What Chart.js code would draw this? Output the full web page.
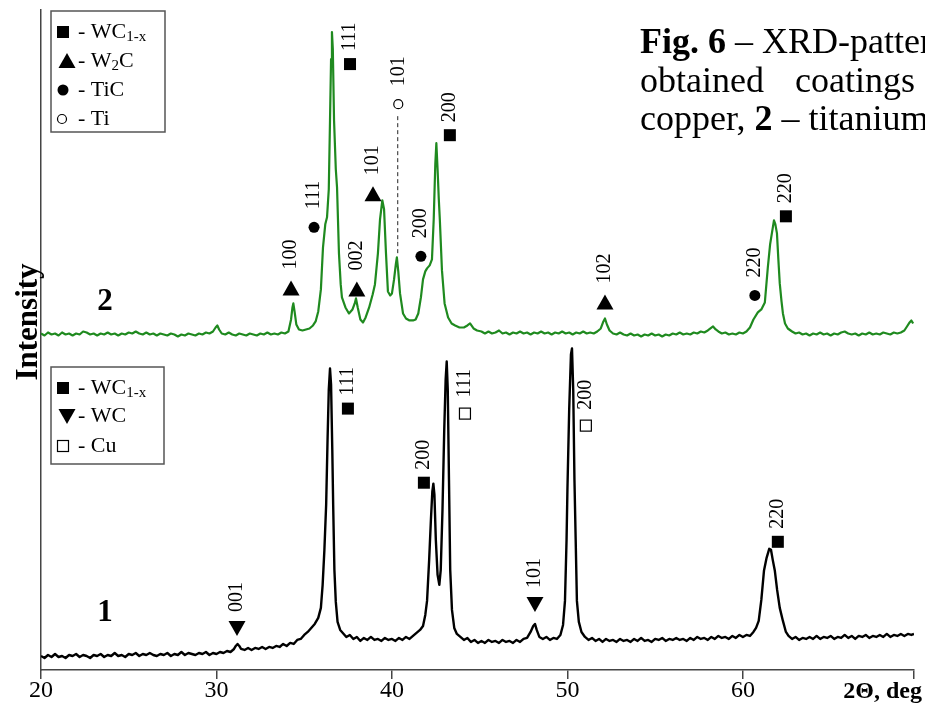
<!DOCTYPE html>
<html>
<head>
<meta charset="utf-8">
<script src="https://cdn.jsdelivr.net/npm/chart.js@4.4.1/dist/chart.umd.min.js"></script>
<style>
  html, body { margin: 0; padding: 0; background: #fff; }
</style>
</head>
<body>
<canvas id="chart" width="925" height="703"></canvas>
<script>
'use strict'

// pattern 1 (black) - 2theta, deg and intensity (arb. units)
const blackTheta = [
  20.0, 20.2, 20.4, 20.6, 20.8, 21.0, 21.2, 21.4, 21.6, 21.8,
  22.0, 22.2, 22.4, 22.6, 22.8, 23.0, 23.2, 23.4, 23.6, 23.8,
  24.0, 24.2, 24.4, 24.6, 24.8, 25.0, 25.2, 25.4, 25.6, 25.8,
  26.0, 26.2, 26.4, 26.6, 26.8, 27.0, 27.2, 27.4, 27.6, 27.8,
  28.0, 28.2, 28.4, 28.6, 28.8, 29.0, 29.2, 29.4, 29.6, 29.8,
  30.0, 30.2, 30.4, 30.6, 30.8, 31.0, 31.1, 31.2, 31.3, 31.4,
  31.6, 31.8, 32.0, 32.2, 32.4, 32.6, 32.8, 33.0, 33.2, 33.4,
  33.6, 33.8, 34.0, 34.2, 34.4, 34.6, 34.8, 35.0, 35.2, 35.4,
  35.6, 35.8, 35.95, 36.05, 36.15, 36.25, 36.33, 36.4, 36.47, 36.53,
  36.6, 36.65, 36.72, 36.8, 36.9, 37.05, 37.2, 37.4, 37.6, 37.8,
  38.0, 38.2, 38.4, 38.6, 38.8, 39.0, 39.2, 39.4, 39.6, 39.8,
  40.0, 40.2, 40.4, 40.6, 40.8, 41.0, 41.2, 41.4, 41.6, 41.77,
  41.9, 42.0, 42.12, 42.22, 42.3, 42.36, 42.42, 42.5, 42.6, 42.7,
  42.78, 42.88, 42.98, 43.06, 43.12, 43.18, 43.25, 43.32, 43.42, 43.55,
  43.7, 43.9, 44.1, 44.3, 44.5, 44.7, 44.9, 45.1, 45.3, 45.5,
  45.7, 45.9, 46.1, 46.3, 46.5, 46.7, 46.9, 47.1, 47.3, 47.5,
  47.7, 47.9, 48.05, 48.15, 48.25, 48.4, 48.6, 48.8, 49.0, 49.2,
  49.4, 49.6, 49.75, 49.86, 49.95, 50.0, 50.1, 50.2, 50.26, 50.33,
  50.4, 50.47, 50.54, 50.65, 50.8, 51.0, 51.2, 51.4, 51.6, 51.8,
  52.0, 52.2, 52.4, 52.6, 52.8, 53.0, 53.2, 53.4, 53.6, 53.8,
  54.0, 54.2, 54.4, 54.6, 54.8, 55.0, 55.2, 55.4, 55.6, 55.8,
  56.0, 56.2, 56.4, 56.6, 56.8, 57.0, 57.2, 57.4, 57.6, 57.8,
  58.0, 58.2, 58.4, 58.6, 58.8, 59.0, 59.2, 59.4, 59.6, 59.8,
  60.0, 60.2, 60.4, 60.6, 60.75, 60.9, 61.05, 61.2, 61.35, 61.5,
  61.6, 61.7, 61.82, 61.95, 62.1, 62.28, 62.45, 62.6, 62.8, 63.0,
  63.2, 63.4, 63.6, 63.8, 64.0, 64.2, 64.4, 64.6, 64.8, 65.0,
  65.2, 65.4, 65.6, 65.8, 66.0, 66.2, 66.4, 66.6, 66.8, 67.0,
  67.2, 67.4, 67.6, 67.8, 68.0, 68.2, 68.4, 68.6, 68.8, 69.0,
  69.2, 69.4, 69.6, 69.75,
]
const blackIntensity = [
  14, 12, 15, 13, 16, 13, 14, 12, 15, 14,
  16, 13, 15, 14, 12, 15, 14, 16, 13, 15,
  14, 17, 14, 15, 13, 16, 15, 17, 14, 16,
  15, 17, 15, 14, 16, 15, 17, 14, 16, 15,
  18, 15, 17, 16, 15, 17, 16, 18, 15, 17,
  16, 18, 17, 19, 18, 21, 24, 26, 24, 21,
  20, 22, 20, 22, 21, 23, 21, 23, 22, 24,
  23, 26, 24, 27, 26, 30, 31, 35, 38, 42,
  46, 52, 62, 85, 120, 165, 230, 280, 301, 285,
  220, 165, 100, 68, 48, 40, 37, 33, 35, 31,
  33, 29, 32, 30, 33, 30, 31, 29, 32, 30,
  31, 29, 32, 30, 33, 31, 34, 37, 40, 44,
  55, 69, 110, 150, 178, 186, 175, 130, 95, 85,
  100, 160, 240, 290, 308, 280, 190, 100, 60, 42,
  36, 33, 30, 32, 28, 30, 27, 29, 27, 30,
  28, 29, 27, 30, 28, 29, 27, 30, 28, 31,
  32, 38, 44, 46, 40, 33, 31, 33, 30, 32,
  31, 35, 45, 69, 130, 180, 260, 315, 321, 280,
  190, 130, 69, 48, 38, 33, 30, 32, 29, 31,
  28, 31, 29, 30, 28, 31, 29, 30, 28, 31,
  29, 32, 29, 30, 28, 31, 30, 32, 29, 31,
  30, 32, 30, 31, 29, 32, 30, 33, 31, 32,
  30, 33, 31, 34, 32, 33, 31, 34, 32, 35,
  33, 35, 34, 38, 42, 49, 70, 99, 112, 121,
  120, 110, 99, 80, 62, 49, 38, 34, 31, 33,
  30, 32, 31, 33, 31, 34, 31, 33, 32, 34,
  31, 33, 32, 35, 32, 34, 31, 34, 33, 35,
  32, 34, 33, 35, 33, 36, 33, 35, 34, 36,
  34, 36, 35, 36,
]

// pattern 2 (green), plotted with its offset above pattern 1
const greenTheta = [
  20.0, 20.2, 20.4, 20.6, 20.8, 21.0, 21.2, 21.4, 21.6, 21.8,
  22.0, 22.2, 22.4, 22.6, 22.8, 23.0, 23.2, 23.4, 23.6, 23.8,
  24.0, 24.2, 24.4, 24.6, 24.8, 25.0, 25.2, 25.4, 25.6, 25.8,
  26.0, 26.2, 26.4, 26.6, 26.8, 27.0, 27.2, 27.4, 27.6, 27.8,
  28.0, 28.2, 28.4, 28.6, 28.8, 29.0, 29.2, 29.4, 29.6, 29.8,
  29.95, 30.05, 30.15, 30.3, 30.5, 30.7, 30.9, 31.1, 31.3, 31.5,
  31.7, 31.9, 32.1, 32.3, 32.5, 32.7, 32.9, 33.1, 33.3, 33.5,
  33.7, 33.9, 34.1, 34.25, 34.33, 34.38, 34.45, 34.55, 34.7, 34.9,
  35.1, 35.3, 35.5, 35.65, 35.8, 35.95, 36.07, 36.2, 36.3, 36.4,
  36.47, 36.53, 36.58, 36.63, 36.7, 36.8, 36.87, 36.98, 37.08, 37.15,
  37.35, 37.55, 37.75, 37.88, 37.95, 38.05, 38.2, 38.35, 38.5, 38.7,
  38.9, 39.03, 39.2, 39.32, 39.45, 39.55, 39.66, 39.77, 39.9, 40.0,
  40.12, 40.22, 40.28, 40.36, 40.46, 40.63, 40.8, 41.0, 41.2, 41.35,
  41.5, 41.65, 41.77, 41.9, 42.0, 42.15, 42.28, 42.38, 42.47, 42.53,
  42.6, 42.67, 42.73, 42.85, 43.0, 43.2, 43.4, 43.6, 43.85, 44.1,
  44.3, 44.45, 44.65, 44.85, 45.1, 45.3, 45.5, 45.7, 45.9, 46.1,
  46.3, 46.5, 46.7, 46.9, 47.1, 47.3, 47.5, 47.7, 47.9, 48.1,
  48.3, 48.5, 48.7, 48.9, 49.1, 49.3, 49.5, 49.7, 49.9, 50.1,
  50.3, 50.5, 50.7, 50.9, 51.1, 51.3, 51.5, 51.7, 51.9, 52.05,
  52.14, 52.25, 52.4, 52.6, 52.8, 53.0, 53.2, 53.4, 53.6, 53.8,
  54.0, 54.2, 54.4, 54.6, 54.8, 55.0, 55.2, 55.4, 55.6, 55.8,
  56.0, 56.2, 56.4, 56.6, 56.8, 57.0, 57.2, 57.4, 57.6, 57.8,
  58.0, 58.15, 58.3, 58.45, 58.6, 58.8, 59.0, 59.2, 59.4, 59.6,
  59.8, 60.0, 60.2, 60.4, 60.6, 60.85, 61.05, 61.25, 61.42, 61.55,
  61.65, 61.77, 61.85, 61.94, 62.02, 62.1, 62.2, 62.28, 62.4, 62.56,
  62.8, 63.0, 63.2, 63.4, 63.6, 63.8, 64.0, 64.2, 64.4, 64.6,
  64.8, 65.0, 65.2, 65.4, 65.6, 65.8, 66.0, 66.2, 66.4, 66.6,
  66.8, 67.0, 67.2, 67.4, 67.6, 67.8, 68.0, 68.2, 68.4, 68.6,
  68.8, 69.0, 69.2, 69.35, 69.5, 69.6, 69.7,
]
const greenIntensity = [
  336, 334, 337, 335, 336, 334, 337, 335, 336, 334,
  336, 335, 338, 337, 335, 336, 334, 336, 335, 337,
  335, 336, 334, 336, 335, 337, 336, 338, 336, 335,
  337, 335, 336, 334, 336, 335, 334, 336, 335, 333,
  335, 334, 336, 335, 334, 336, 335, 337, 336, 338,
  342, 344, 340, 336, 335, 337, 335, 334, 336, 335,
  334, 336, 335, 334, 336, 335, 337, 335, 336, 335,
  337, 336, 338, 350, 362, 366, 358, 345, 340, 339,
  340, 341, 344, 348, 358, 380, 422, 445, 452, 480,
  549, 610, 637, 620, 549, 500, 482, 416, 385, 372,
  362, 356, 360, 366, 371, 362, 350, 347, 352, 362,
  375, 385, 416, 450, 469, 460, 416, 378, 374, 376,
  390, 405, 412, 398, 376, 356, 351, 349, 349, 350,
  356, 372, 390, 398, 401, 404, 410, 450, 505, 526,
  500, 470, 449, 399, 366, 352, 346, 344, 342, 342,
  344, 346, 341, 339, 338, 336, 338, 336, 337, 339,
  336, 337, 335, 337, 336, 338, 336, 337, 335, 337,
  336, 338, 336, 337, 335, 337, 336, 338, 336, 337,
  335, 337, 336, 338, 336, 337, 336, 338, 341, 348,
  351, 345, 339, 336, 335, 337, 335, 334, 336, 334,
  335, 333, 335, 334, 336, 334, 335, 333, 335, 334,
  336, 335, 337, 335, 336, 335, 337, 336, 338, 337,
  339, 341, 343, 340, 338, 336, 337, 335, 336, 335,
  337, 336, 338, 342, 350, 357, 360, 367, 402, 425,
  436, 449, 445, 436, 410, 386, 368, 356, 346, 341,
  338, 336, 337, 335, 336, 334, 336, 335, 337, 335,
  336, 334, 336, 335, 337, 338, 336, 335, 336, 334,
  336, 335, 337, 335, 336, 335, 337, 336, 335, 337,
  336, 337, 339, 343, 347, 349, 346,
]

const xTicks = [20, 30, 40, 50, 60, 69.75]

// phase marks: position (2theta, intensity), symbol, hkl
const markTheta = [34.25, 35.56, 38.0, 38.92, 40.36, 41.65, 43.3, 37.61, 52.14, 60.68, 62.45,
  31.17, 37.49, 44.16, 41.82, 51.05, 48.15, 61.99]
const markIntensity = [381, 442, 380, 475, 565, 413, 534, 605, 367, 374, 453,
  42, 261, 256, 187, 244, 66, 128]
const markSymbol = ['up', 'dot', 'up', 'up', 'ring', 'dot', 'square', 'square', 'up', 'dot', 'square',
  'down', 'square', 'openSquare', 'square', 'openSquare', 'down', 'square']
const markLabel = ['100', '111', '002', '101', '101', '200', '200', '111', '102', '220', '220',
  '001', '111', '111', '200', '200', '101', '220']

// dashed guide from the Ti mark down to its peak
const dashTheta = 40.33
const dashFrom = 553
const dashTo = 414

const serif = '"Liberation Serif", "Times New Roman", serif'
const green = '#1f8a1f'

function drawSymbol(ctx, kind, cx, cy) {
  ctx.save()
  ctx.fillStyle = '#000'
  ctx.strokeStyle = '#000'
  ctx.lineWidth = 1.2
  ctx.beginPath()
  if (kind === 'square') {
    ctx.fillRect(cx - 6, cy - 6, 12, 12)
  } else if (kind === 'openSquare') {
    ctx.fillStyle = '#fff'
    ctx.fillRect(cx - 5.5, cy - 5.5, 11, 11)
    ctx.strokeRect(cx - 5.5, cy - 5.5, 11, 11)
  } else if (kind === 'up') {
    ctx.moveTo(cx, cy - 8)
    ctx.lineTo(cx + 8.5, cy + 7)
    ctx.lineTo(cx - 8.5, cy + 7)
    ctx.closePath()
    ctx.fill()
  } else if (kind === 'down') {
    ctx.moveTo(cx, cy + 8)
    ctx.lineTo(cx + 8.5, cy - 7)
    ctx.lineTo(cx - 8.5, cy - 7)
    ctx.closePath()
    ctx.fill()
  } else if (kind === 'dot') {
    ctx.arc(cx, cy, 5.5, 0, Math.PI * 2)
    ctx.fill()
  } else if (kind === 'ring') {
    ctx.arc(cx, cy, 4.5, 0, Math.PI * 2)
    ctx.fillStyle = '#fff'
    ctx.fill()
    ctx.stroke()
  }
  ctx.restore()
}

const labelGap = { up: 19, down: 16, square: 13, openSquare: 16, dot: 18, ring: 18 }

// text made of pieces: normal, subscript or bold
function drawRich(ctx, x, y, parts, size) {
  let cx = x
  parts.forEach(p => {
    const s = p.sub ? Math.round(size * 0.7) : size
    ctx.font = (p.bold ? 'bold ' : '') + s + 'px ' + serif
    ctx.fillText(p.t, cx, p.sub ? y + 5 : y)
    cx += ctx.measureText(p.t).width
  })
}

function legendBox(ctx, x0, y0, w, h, rows) {
  ctx.strokeStyle = '#555'
  ctx.lineWidth = 1.5
  ctx.strokeRect(x0, y0, w, h)
  ctx.fillStyle = '#000'
  ctx.textAlign = 'left'
  ctx.textBaseline = 'middle'
  rows.forEach(r => {
    drawSymbol(ctx, r.sym, r.sx, r.y)
    ctx.fillStyle = '#000'
    drawRich(ctx, 78, r.y, r.parts, 22)
  })
}

const decorations = {
  id: 'decorations',
  afterDraw(chart) {
    const { ctx } = chart
    const x = chart.scales.x
    const y = chart.scales.y
    ctx.save()

    // Ti guide line
    ctx.strokeStyle = '#222'
    ctx.lineWidth = 1
    ctx.setLineDash([4, 3])
    ctx.beginPath()
    ctx.moveTo(x.getPixelForValue(dashTheta), y.getPixelForValue(dashFrom))
    ctx.lineTo(x.getPixelForValue(dashTheta), y.getPixelForValue(dashTo))
    ctx.stroke()
    ctx.setLineDash([])

    // phase marks + hkl labels
    markTheta.forEach((t, i) => {
      const px = x.getPixelForValue(t)
      const py = y.getPixelForValue(markIntensity[i])
      drawSymbol(ctx, markSymbol[i], px, py)
      ctx.save()
      ctx.translate(px, py - labelGap[markSymbol[i]])
      ctx.rotate(-Math.PI / 2)
      ctx.font = '20px ' + serif
      ctx.fillStyle = '#000'
      ctx.textAlign = 'left'
      ctx.textBaseline = 'middle'
      ctx.fillText(markLabel[i], 0, 0)
      ctx.restore()
    })

    // pattern numbers
    ctx.fillStyle = '#000'
    ctx.font = 'bold 31px ' + serif
    ctx.textAlign = 'center'
    ctx.textBaseline = 'middle'
    ctx.fillText('2', x.getPixelForValue(23.65), y.getPixelForValue(367))
    ctx.fillText('1', x.getPixelForValue(23.65), y.getPixelForValue(57))

    legendBox(ctx, 51, 11, 114, 121, [
      { sym: 'square', sx: 63, y: 32, parts: [{ t: '- WC' }, { t: '1-x', sub: true }] },
      { sym: 'up', sx: 67, y: 61, parts: [{ t: '- W' }, { t: '2', sub: true }, { t: 'C' }] },
      { sym: 'dot', sx: 63, y: 90, parts: [{ t: '- TiC' }] },
      { sym: 'ring', sx: 62, y: 119, parts: [{ t: '- Ti' }] },
    ])
    legendBox(ctx, 51, 367, 113, 97, [
      { sym: 'square', sx: 63, y: 388, parts: [{ t: '- WC' }, { t: '1-x', sub: true }] },
      { sym: 'down', sx: 67, y: 416, parts: [{ t: '- WC' }] },
      { sym: 'openSquare', sx: 63, y: 446, parts: [{ t: '- Cu' }] },
    ])

    // axis titles
    ctx.save()
    ctx.translate(37, 322)
    ctx.rotate(-Math.PI / 2)
    ctx.font = 'bold 31px ' + serif
    ctx.textAlign = 'center'
    ctx.textBaseline = 'alphabetic'
    ctx.fillText('Intensity', 0, 0)
    ctx.restore()

    ctx.font = 'bold 24px ' + serif
    ctx.textAlign = 'right'
    ctx.textBaseline = 'alphabetic'
    ctx.fillText('2\u0398, deg', 922, 698)

    // figure caption (cut by the right edge)
    ctx.textAlign = 'left'
    drawRich(ctx, 640, 53, [{ t: 'Fig. 6', bold: true }, { t: ' \u2013 XRD-patterns of the' }], 36)
    ctx.font = '36px ' + serif
    ctx.fillText('obtained', 640, 92)
    ctx.fillText('coatings', 795, 92)
    ctx.fillText('on', 945, 92)
    drawRich(ctx, 640, 130, [{ t: 'copper, ' }, { t: '2', bold: true }, { t: ' \u2013 titanium' }], 36)

    ctx.restore()
  },
}

Chart.defaults.font.family = serif
Chart.defaults.color = '#000'

const toPoints = (xs, ys) => xs.map((t, i) => ({ x: t, y: ys[i] }))

const chart = new Chart(document.getElementById('chart'), {
  type: 'line',
  data: {
    datasets: [
      {
        label: '1',
        data: toPoints(blackTheta, blackIntensity),
        borderColor: '#000',
        borderWidth: 2.4,
        pointRadius: 0,
        tension: 0,
        borderJoinStyle: 'round',
      },
      {
        label: '2',
        data: toPoints(greenTheta, greenIntensity),
        borderColor: green,
        borderWidth: 2.2,
        pointRadius: 0,
        tension: 0,
        borderJoinStyle: 'round',
      },
    ],
  },
  options: {
    responsive: false,
    animation: false,
    layout: { padding: { left: 41, right: 11, top: 10, bottom: 0 } },
    plugins: {
      legend: { display: false },
      tooltip: { enabled: false },
    },
    scales: {
      x: {
        type: 'linear',
        min: 20,
        max: 69.75,
        afterBuildTicks: axis => {
          axis.ticks = xTicks.map(v => ({ value: v }))
        },
        ticks: {
          autoSkip: false,
          maxRotation: 0,
          padding: 0,
          color: '#000',
          font: { size: 24, lineHeight: 1.0 },
          callback: v => (v % 10 === 0 ? String(v) : ''),
        },
        grid: {
          display: true,
          drawOnChartArea: false,
          drawTicks: true,
          tickLength: 9,
          color: '#444',
          lineWidth: 1.5,
        },
        border: { display: true, color: '#444', width: 1.5 },
      },
      y: {
        type: 'linear',
        min: 0,
        max: 659,
        ticks: { display: false },
        grid: { display: false, drawTicks: false },
        border: { display: true, color: '#444', width: 1.5 },
      },
    },
  },
  plugins: [decorations],
})
</script>
</body>
</html>
